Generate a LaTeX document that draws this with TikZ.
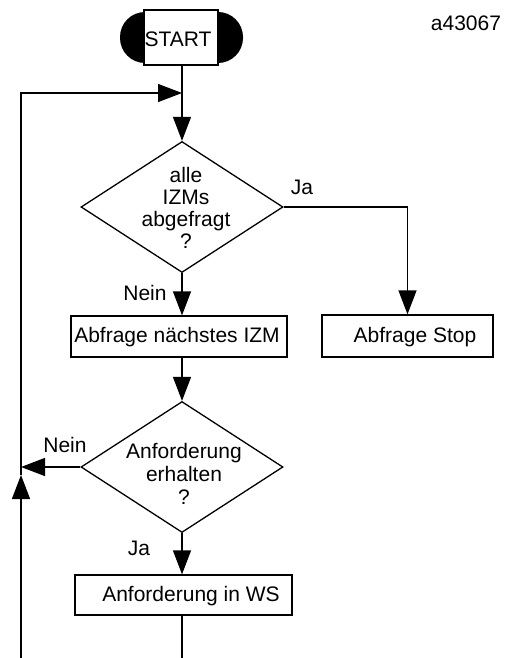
\documentclass[tikz,border=0pt]{standalone}
\usepackage{fontspec}
\setmainfont{Liberation Sans}
\usetikzlibrary{arrows.meta,shapes.geometric}
\begin{document}
\begin{tikzpicture}[x=1pt,y=-1pt,
  every node/.style={font=\fontsize{21}{22}\selectfont, inner sep=0pt},
  ln/.style={line width=1.3pt},
  arr/.style={ln, -{Triangle[length=24pt,width=18pt]}},
  box/.style={draw, ln, fill=white},
  dia/.style={draw, ln, diamond, minimum width=202pt, minimum height=131pt, inner sep=0pt},
  lbl/.style={}
]
\useasboundingbox (0,0) rectangle (505,658);
% terminal
\fill[black, rounded corners=25pt] (120,12) rectangle (243,63);
\node[box, minimum width=74pt, minimum height=55pt] (start) at (181,37.5) {};
\node (startt) at (178,39) {START};
\node (code) at (466,23) {a43067};
% decisions
\node[dia] (d1) at (182,207) {};
\node[align=center] (d1t) at (186,208) {alle\\IZMs\\abgefragt\\?};
\node[dia] (d2) at (182,467) {};
\node[align=center, font=\fontsize{21}{23}\selectfont] (d2t) at (184,474) {Anforderung\\erhalten\\?};
% boxes
\node[box, minimum width=216pt, minimum height=41pt] (b1) at (179,336.5) {};
\node (b1t) at (177,337) {Abfrage nächstes IZM};
\node[box, minimum width=171pt, minimum height=42pt] (b2) at (407.5,336) {};
\node (b2t) at (415,337) {Abfrage Stop};
\node[box, minimum width=217pt, minimum height=40pt] (b3) at (183.5,595) {};
\node (b3t) at (191,596) {Anforderung in WS};
% labels
\node (ja1) at (302,187) {Ja};
\node (nein1) at (145,293) {Nein};
\node (nein2) at (65,445) {Nein};
\node (ja2) at (139,548) {Ja};
% coordinates
\coordinate (lb) at (21,670);
\coordinate (ua) at (21,475);
\coordinate (lt) at (21,93);
\coordinate (jn) at (182,93);
\coordinate (bb) at (182,670);
% connectors
\draw[arr] (start.south -| d1.north) -- (d1.north);
\draw[arr] (lb) -- (ua);
\draw[arr] (ua) -- (lt) -- (jn);
\draw[arr] (d1.south) -- (d1.south |- b1.north);
\draw[arr] (d1.east) -- (d1.east -| b2.north) -- (b2.north);
\draw[arr] (d1.south |- b1.south) -- (d2.north);
\draw[arr] (d2.west) -- (d2.west -| lt);
\draw[arr] (d2.south) -- (d2.south |- b3.north);
\draw[ln] (bb |- b3.south) -- (bb);
\end{tikzpicture}
\end{document}
